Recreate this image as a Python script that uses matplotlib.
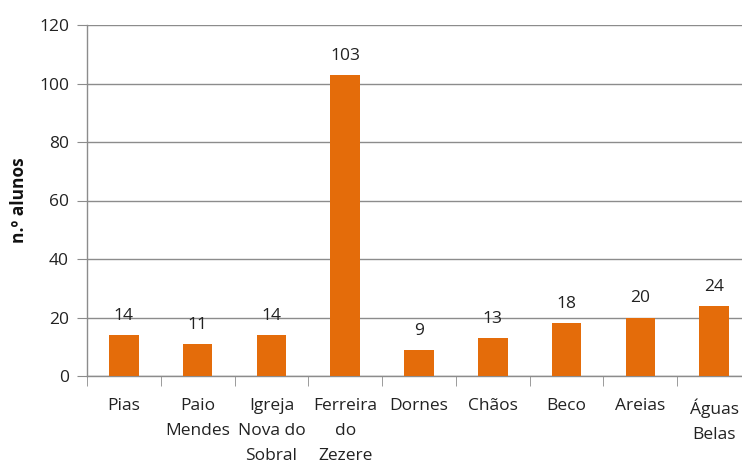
import matplotlib
matplotlib.use("Agg")
import matplotlib.pyplot as plt

categories = ["Pias", "Paio\nMendes", "Igreja\nNova do\nSobral", "Ferreira\ndo\nZezere",
              "Dornes", "Chãos", "Beco", "Areias", "Águas\nBelas"]
values = [14, 11, 14, 103, 9, 13, 18, 20, 24]
yticks = [0, 20, 40, 60, 80, 100, 120]

plt.rcParams['font.family'] = ['Open Sans', 'DejaVu Sans']

fig = plt.figure(figsize=(7.42, 4.67), dpi=100)
ax = fig.add_axes([87/742, 1 - 376/467, (751 - 87)/742, (376 - 25)/467])

x = list(range(len(categories)))
bars = ax.bar(x, values, width=0.4, color="#E46C0A", zorder=3)
for xi, v in zip(x, values):
    ax.annotate(str(v), (xi, v), xytext=(0, 8), textcoords="offset points",
                ha="center", va="bottom", fontsize=12.5, color="#222222")

ax.set_xlim(-0.5, len(categories) - 0.5)
ax.set_ylim(0, 120)
ax.set_yticks(yticks)
ax.set_yticklabels([str(t) for t in yticks], fontsize=12.5, color="#222222")
ax.yaxis.grid(True, color="#8C8C8C", linewidth=1.0, zorder=0)
ax.set_axisbelow(True)

ax.set_xticks(x)
ax.set_xticklabels(categories, fontsize=12.5, color="#222222", linespacing=1.75, va="top")
ax.tick_params(axis="x", length=0, pad=16)
ax.set_xticks([i + 0.5 for i in range(-1, len(categories))], minor=True)
ax.tick_params(axis="x", which="minor", length=7, color="#8C8C8C", direction="out")
ax.tick_params(axis="y", length=7, color="#8C8C8C", direction="out", pad=6)

for s in ["top", "right"]:
    ax.spines[s].set_visible(False)
for s in ["left", "bottom"]:
    ax.spines[s].set_color("#8C8C8C")
    ax.spines[s].set_linewidth(1.0)

ax.set_ylabel("n.º alunos", fontsize=12.5, fontweight="bold", labelpad=8, color="#111111")

fig.savefig("out.png", dpi=100)
